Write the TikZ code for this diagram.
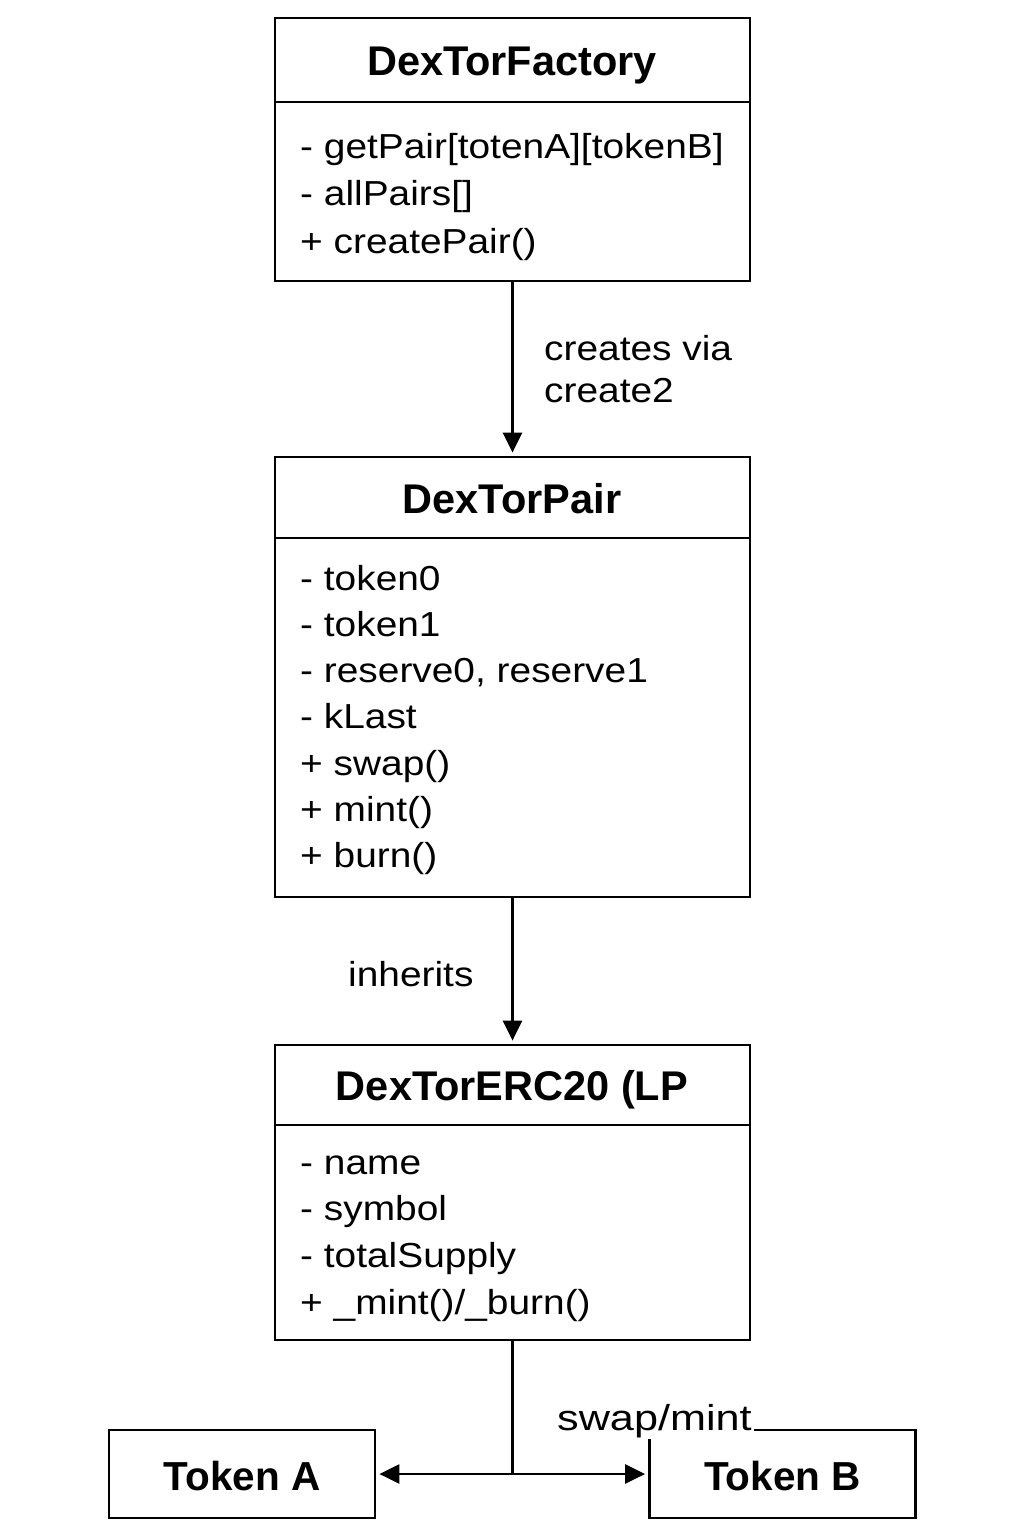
\documentclass[tikz,border=0pt]{standalone}
\usepackage{fontspec}
\setmainfont{Liberation Sans}
\newfontfamily\bodyfont{Liberation Sans}[FakeStretch=1.12]
\newfontfamily\widefont{Liberation Sans}[FakeStretch=1.2]
\usetikzlibrary{arrows.meta}
\begin{document}
\begin{tikzpicture}[x=1pt,y=-1pt,
  box/.style={draw, line width=2.8pt, minimum width=475pt, inner sep=0pt},
  tokbox/.style={draw, line width=2.8pt, minimum width=266pt, minimum height=88pt, inner sep=0pt},
  divider/.style={line width=2.8pt},
  title/.style={font=\fontsize{41.5}{48}\selectfont\bfseries, anchor=base, inner sep=0pt},
  toktitle/.style={font=\fontsize{40.5}{48}\selectfont\bfseries, anchor=base, inner sep=0pt},
  attr/.style={font=\bodyfont\fontsize{34.7}{46}\selectfont, anchor=base west, inner sep=0pt},
  lbl/.style={font=\bodyfont\fontsize{34.7}{46}\selectfont, anchor=base west, inner sep=0pt},
  conn/.style={line width=2.5pt},
  arr/.style={conn, -{Triangle[length=20pt,width=19pt]}, shorten >=3pt}]
\useasboundingbox (0,0) rectangle (1024,1536);
\fill[white] (0,0) rectangle (1024,1536);

% DexTorFactory
\node[box, minimum height=263pt] (factory) at (512.5,149.5) {};
\coordinate (fdiv) at (0,102);
\draw[divider] (factory.west |- fdiv) -- (factory.east |- fdiv);
\node[title] (ftitle) at (512,76) {DexTorFactory};
\foreach \t [count=\i] in {{- getPair[totenA][tokenB]},{- allPairs[]},{+ createPair()}}
  \node[attr] (f\i) at (300,{158+47.5*(\i-1)}) {\t};

% DexTorPair
\node[box, minimum height=440pt] (pair) at (512.5,677) {};
\coordinate (pdiv) at (0,538);
\draw[divider] (pair.west |- pdiv) -- (pair.east |- pdiv);
\node[title] (ptitle) at (512,513) {DexTorPair};
\foreach \t [count=\i] in {{- token0},{- token1},{- reserve0, reserve1},{- kLast},{+ swap()},{+ mint()},{+ burn()}}
  \node[attr] (p\i) at (300,{590+46.3*(\i-1)}) {\t};

% DexTorERC20
\node[box, minimum height=295pt] (erc) at (512.5,1192.5) {};
\coordinate (ediv) at (0,1125);
\draw[divider] (erc.west |- ediv) -- (erc.east |- ediv);
\node[title] (etitle) at (512,1100) {DexTorERC20 (LP};
\foreach \t [count=\i] in {{- name},{- symbol},{- totalSupply},{+ \_mint()/\_burn()}}
  \node[attr] (e\i) at (300,{1174+46.7*(\i-1)}) {\t};

% Tokens
\node[tokbox] (tokA) at (242,1474) {};
\node[toktitle] (tokAt) at (242,1490) {Token A};
\node[tokbox] (tokB) at (782.5,1474) {};
\node[toktitle] (tokBt) at (782.5,1490) {Token B};

% connectors
\draw[arr] (factory.south) -- (pair.north);
\node[lbl] (l1) at (544,360) {creates via};
\node[lbl] (l2) at (544,402) {create2};
\draw[arr] (pair.south) -- (erc.north);
\node[lbl] (l3) at (348,986) {inherits};
\coordinate (j) at (erc.south |- tokA.east);
\draw[conn] (erc.south) -- (j);
\draw[arr] (j) -- (tokA.east);
\draw[arr] (j) -- (tokB.west);
\node[lbl, font=\widefont\fontsize{36}{46}\selectfont, fill=white, inner sep=2pt] (l4) at (555,1430) {swap/mint};
\end{tikzpicture}
\end{document}
